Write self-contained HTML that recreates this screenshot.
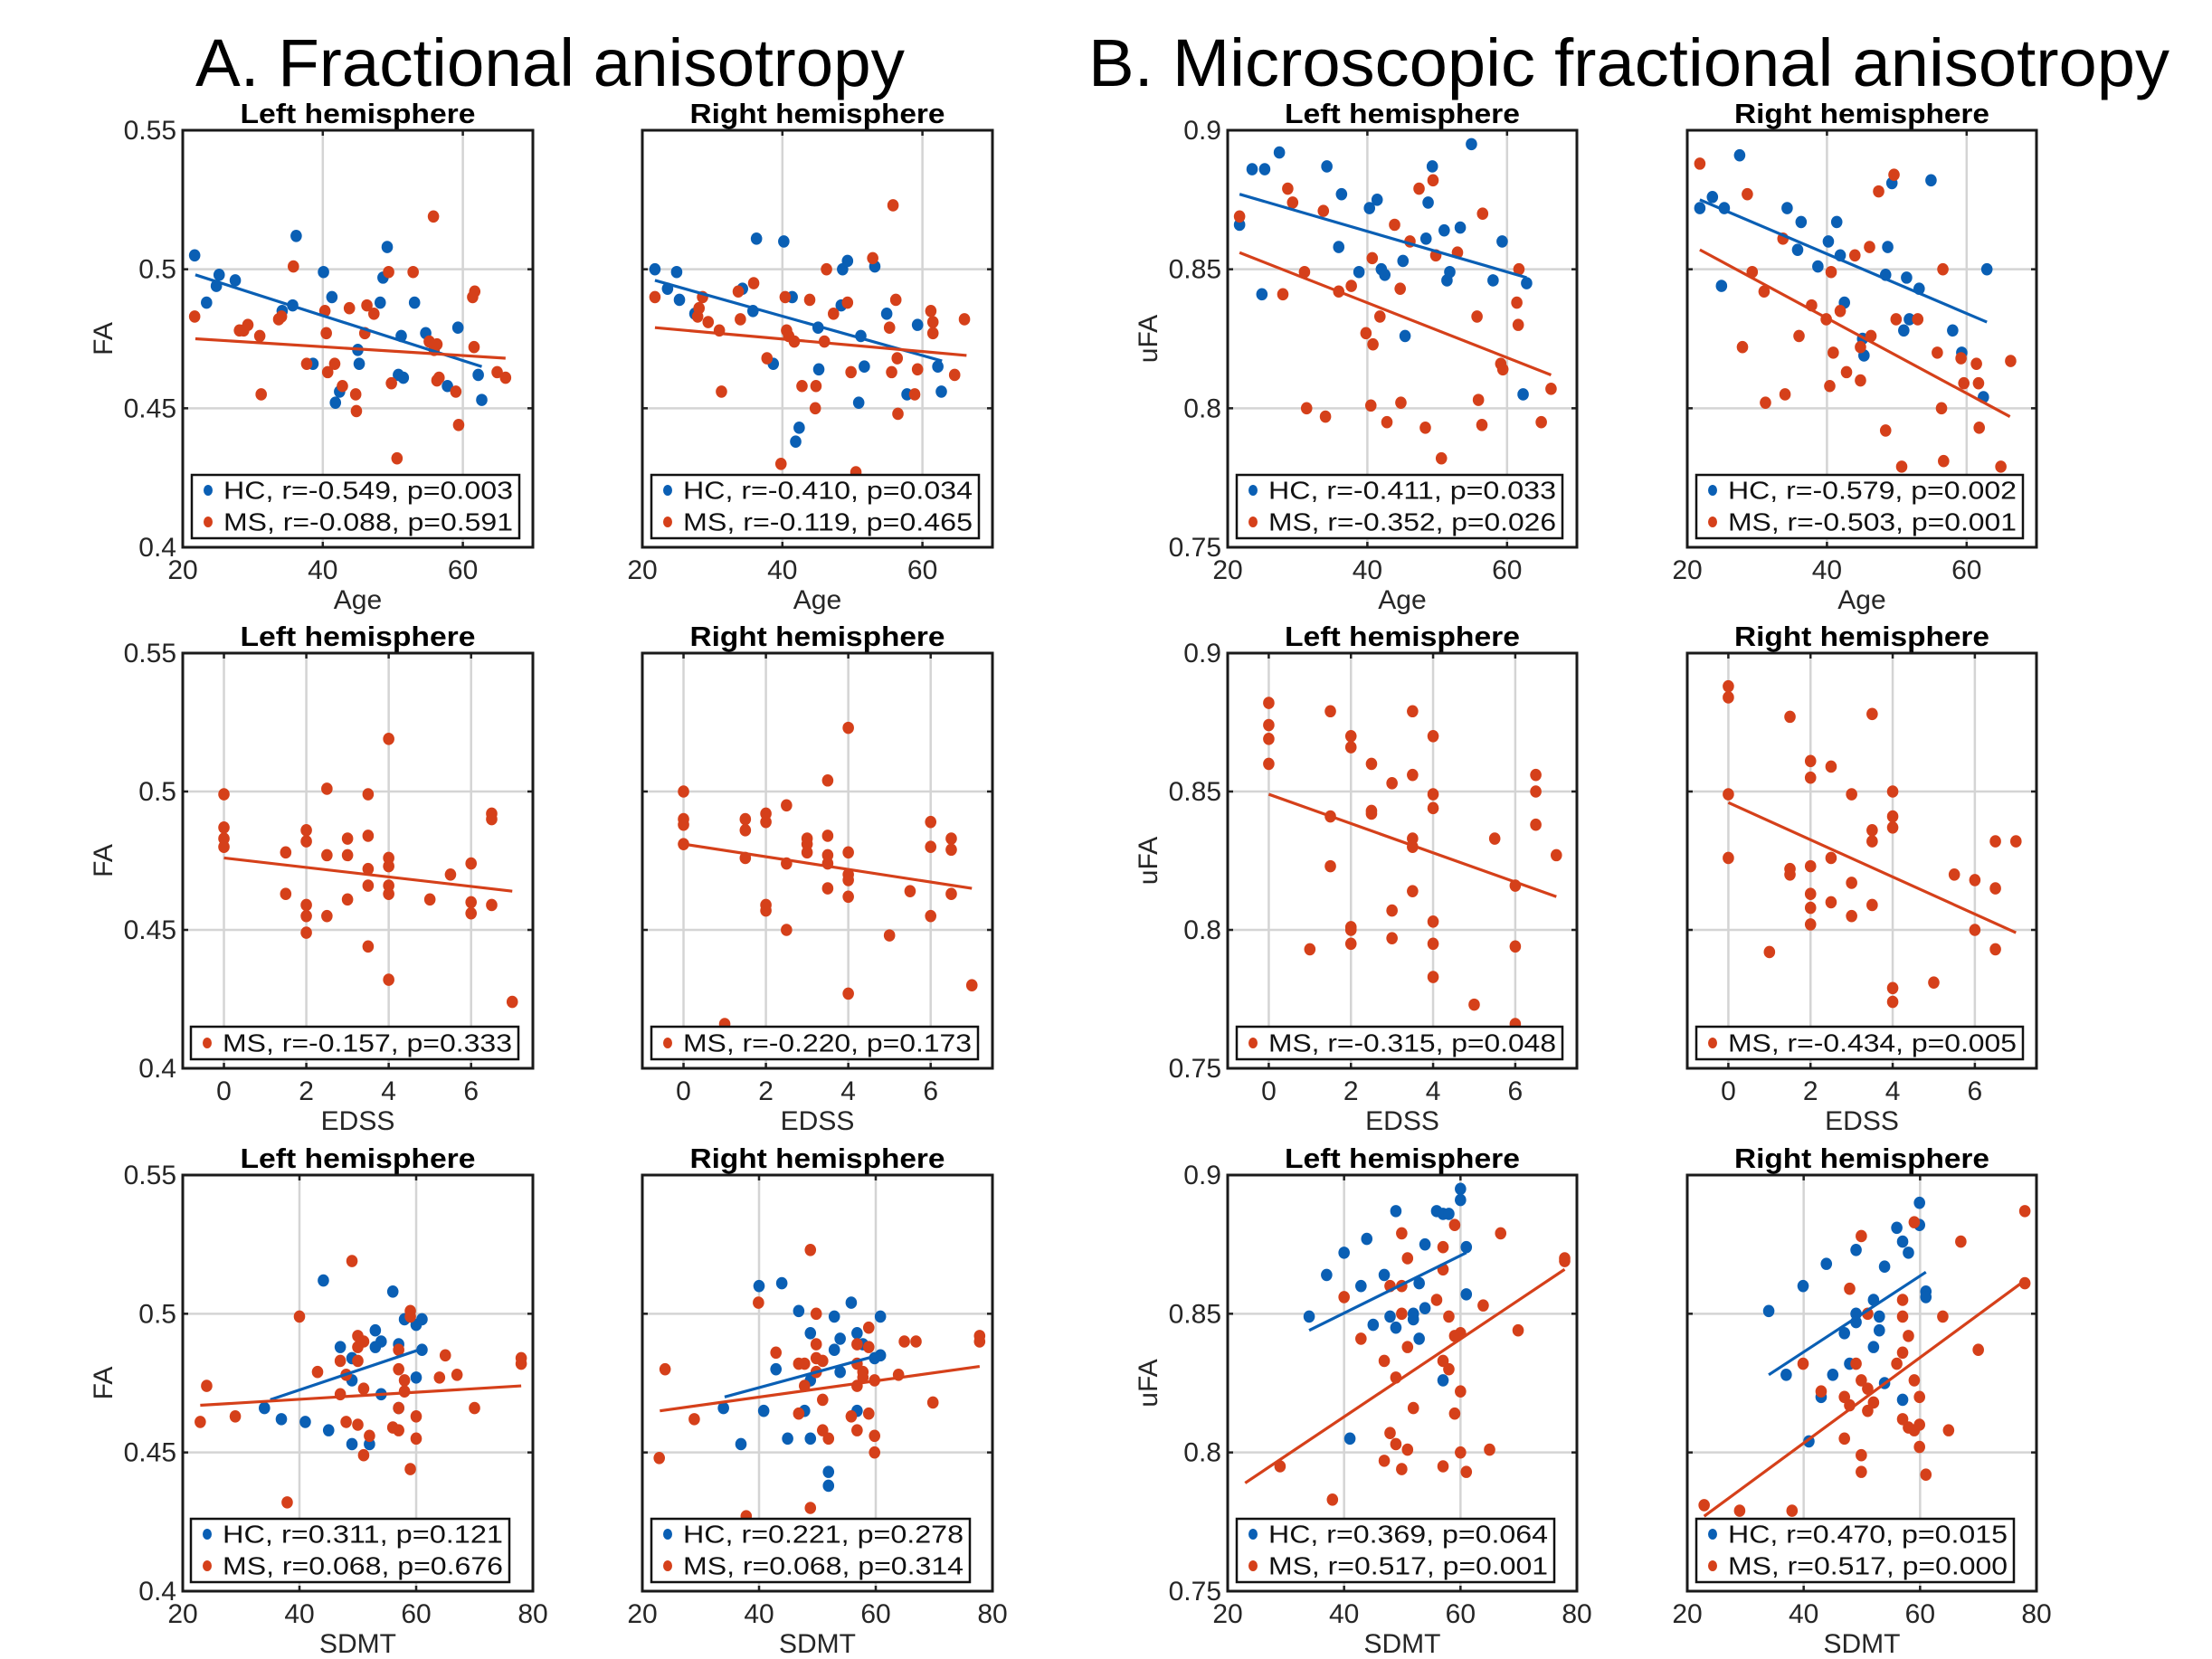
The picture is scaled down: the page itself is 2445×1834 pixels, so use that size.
<!DOCTYPE html>
<html><head><meta charset="utf-8"><style>
html,body{margin:0;padding:0;background:#fff;}
svg{display:block;font-family:"Liberation Sans",sans-serif;}
</style></head><body>
<svg id="fig" xmlns="http://www.w3.org/2000/svg" width="2445" height="1834" viewBox="0 0 2445 1834">
<rect x="0" y="0" width="2445" height="1834" fill="#fff"/>
<text x="216" y="95" font-size="74" textLength="784" lengthAdjust="spacingAndGlyphs">A. Fractional anisotropy</text>
<text x="1203" y="95" font-size="74" textLength="1195" lengthAdjust="spacingAndGlyphs">B. Microscopic fractional anisotropy</text>
</svg>
<script>
// ---- data ----
const A1_HC_X=[21.7,23.4,24.8,25.2,27.5,34.2,35.7,36.2,38.6,40.1,41.3,41.8,42.4,45.0,45.2,48.2,48.6,49.2,50.8,51.2,51.5,53.1,54.7,57.8,59.3,62.2,62.7];
const A1_HC_Y=[0.505,0.488,0.494,0.498,0.496,0.485,0.487,0.512,0.466,0.499,0.490,0.452,0.456,0.471,0.466,0.488,0.497,0.508,0.462,0.476,0.461,0.488,0.477,0.458,0.479,0.462,0.453];
const A1_MS_X=[21.7,28.1,28.7,29.3,31.0,31.2,33.7,34.1,35.8,37.7,40.3,40.5,40.7,41.7,42.8,43.8,44.7,44.8,46.0,46.3,47.3,49.4,49.8,50.6,52.9,55.2,55.8,55.9,56.3,56.3,56.6,59.0,59.4,61.4,61.7,61.6,64.9,66.1];
const A1_MS_Y=[0.483,0.478,0.478,0.480,0.476,0.455,0.482,0.483,0.501,0.466,0.485,0.477,0.463,0.466,0.458,0.486,0.455,0.449,0.477,0.487,0.484,0.499,0.459,0.432,0.499,0.474,0.519,0.471,0.473,0.460,0.461,0.456,0.444,0.490,0.492,0.472,0.463,0.461];
const A1_HC_FIT_X=[21.8,62.7], A1_HC_FIT_Y=[0.498,0.465];
const A1_MS_FIT_X=[21.8,66.1], A1_MS_FIT_Y=[0.475,0.468];

const A2_HC_X=[21.8,23.6,24.9,25.3,27.5,34.3,35.8,36.3,38.7,40.2,41.4,41.9,42.4,45.1,45.2,48.6,48.4,49.3,50.9,51.2,51.7,53.2,54.9,57.8,59.3,62.2,62.7];
const A2_HC_Y=[0.500,0.493,0.499,0.489,0.484,0.493,0.485,0.511,0.466,0.510,0.490,0.438,0.443,0.479,0.464,0.500,0.487,0.503,0.452,0.476,0.465,0.501,0.484,0.455,0.480,0.465,0.456];
const A2_MS_X=[21.8,27.9,28.1,28.6,29.4,31.0,31.3,33.7,34.0,35.9,37.8,39.8,40.4,40.6,40.9,41.7,42.8,43.9,44.7,44.8,46.0,46.3,47.3,49.3,49.8,50.5,52.9,55.3,55.6,55.8,56.2,56.4,56.5,58.9,59.3,61.2,61.5,61.5,64.6,66.0];
const A2_MS_Y=[0.490,0.483,0.486,0.490,0.481,0.478,0.456,0.492,0.482,0.495,0.468,0.430,0.490,0.478,0.476,0.474,0.458,0.489,0.450,0.458,0.474,0.500,0.484,0.488,0.463,0.427,0.504,0.479,0.463,0.523,0.489,0.468,0.448,0.455,0.464,0.485,0.481,0.477,0.462,0.482];
const A2_HC_FIT_X=[21.8,62.8], A2_HC_FIT_Y=[0.496,0.467];
const A2_MS_FIT_X=[21.8,66.3], A2_MS_FIT_Y=[0.479,0.469];

const B1_HC_X=[21.7,23.5,25.3,24.9,27.4,34.2,35.9,36.3,38.8,40.3,41.4,42.0,42.5,45.1,45.4,48.4,48.7,49.3,51.0,51.4,51.8,53.3,54.9,58.0,59.3,62.3,62.8];
const B1_HC_Y=[0.866,0.886,0.886,0.841,0.892,0.887,0.858,0.877,0.849,0.872,0.875,0.850,0.848,0.853,0.826,0.861,0.874,0.887,0.864,0.846,0.849,0.865,0.895,0.846,0.860,0.805,0.845];
const B1_MS_X=[21.7,27.9,28.6,29.3,31.0,31.3,33.7,34.0,35.9,37.7,39.8,40.5,40.7,40.8,41.8,42.8,43.9,44.7,44.8,46.1,47.4,48.3,49.4,49.8,50.6,52.9,55.7,55.9,56.4,56.5,59.1,59.4,61.4,61.6,61.7,64.9,66.3];
const B1_MS_Y=[0.869,0.841,0.879,0.874,0.849,0.800,0.871,0.797,0.842,0.844,0.827,0.801,0.854,0.823,0.833,0.795,0.866,0.843,0.802,0.860,0.879,0.793,0.882,0.855,0.782,0.856,0.833,0.803,0.794,0.870,0.816,0.814,0.838,0.830,0.850,0.795,0.807];
const B1_HC_FIT_X=[21.7,62.8], B1_HC_FIT_Y=[0.877,0.847];
const B1_MS_FIT_X=[21.7,66.3], B1_MS_FIT_Y=[0.856,0.812];

const B2_HC_X=[21.8,23.6,24.9,25.3,27.5,34.3,35.8,36.3,38.7,40.2,41.4,41.9,42.5,45.1,45.3,48.4,48.7,49.3,51.0,51.4,51.8,53.2,54.9,58.0,59.3,62.4,62.9];
const B2_HC_Y=[0.872,0.876,0.844,0.872,0.891,0.872,0.857,0.867,0.851,0.860,0.867,0.855,0.838,0.825,0.819,0.848,0.858,0.881,0.828,0.847,0.832,0.843,0.882,0.828,0.820,0.804,0.850];
const B2_MS_X=[21.8,27.9,28.6,29.3,31.0,31.2,33.7,34.0,36.0,37.8,39.9,40.4,40.6,40.9,41.9,42.8,44.0,44.8,44.8,46.1,46.3,47.4,48.4,49.6,49.9,50.7,53.0,55.8,56.4,56.6,56.7,59.2,59.6,61.4,61.7,61.8,64.9,66.3];
const B2_MS_Y=[0.888,0.822,0.877,0.849,0.842,0.802,0.861,0.805,0.826,0.837,0.832,0.808,0.849,0.820,0.835,0.813,0.855,0.822,0.810,0.858,0.826,0.878,0.792,0.884,0.832,0.779,0.832,0.820,0.800,0.850,0.781,0.818,0.809,0.816,0.809,0.793,0.779,0.817];
const B2_HC_FIT_X=[21.8,62.9], B2_HC_FIT_Y=[0.875,0.831];
const B2_MS_FIT_X=[21.8,66.2], B2_MS_FIT_Y=[0.857,0.797];

const A3_MS_X=[0,0,0,0,1.5,1.5,2,2,2,2,2,2.5,2.5,2.5,3,3,3,3.5,3.5,3.5,3.5,3.5,4,4,4,4,4,4,5,5.5,6,6,6,6.5,6.5,6.5,7];
const A3_MS_Y=[0.499,0.487,0.483,0.480,0.478,0.463,0.486,0.482,0.459,0.455,0.449,0.501,0.477,0.455,0.483,0.477,0.461,0.499,0.484,0.472,0.466,0.444,0.519,0.476,0.473,0.466,0.463,0.432,0.461,0.470,0.474,0.460,0.456,0.492,0.490,0.459,0.424];
const A3_MS_FIT_X=[0,7], A3_MS_FIT_Y=[0.476,0.464];

const A4_MS_X=[0,0,0,0,1,1.5,1.5,1.5,2,2,2,2,2.5,2.5,2.5,3,3,3,3.5,3.5,3.5,3.5,3.5,4,4,4,4,4,4,5,5.5,6,6,6,6.5,6.5,6.5,7];
const A4_MS_Y=[0.500,0.490,0.488,0.481,0.416,0.490,0.486,0.476,0.492,0.489,0.459,0.457,0.495,0.474,0.450,0.483,0.481,0.478,0.504,0.484,0.477,0.474,0.465,0.523,0.478,0.470,0.468,0.462,0.427,0.448,0.464,0.489,0.480,0.455,0.483,0.479,0.463,0.430];
const A4_MS_FIT_X=[0,7], A4_MS_FIT_Y=[0.481,0.465];

const B3_MS_X=[0,0,0,0,1,1.5,1.5,1.5,2,2,2,2,2,2.5,2.5,2.5,3,3,3,3.5,3.5,3.5,3.5,3.5,4,4,4,4,4,4,5,5.5,6,6,6,6.5,6.5,6.5,7];
const B3_MS_Y=[0.882,0.874,0.869,0.860,0.793,0.879,0.841,0.823,0.870,0.866,0.801,0.800,0.795,0.860,0.843,0.842,0.853,0.807,0.797,0.879,0.856,0.833,0.830,0.814,0.870,0.849,0.844,0.803,0.795,0.783,0.773,0.833,0.816,0.794,0.766,0.856,0.850,0.838,0.827];
const B3_MS_FIT_X=[0,7], B3_MS_FIT_Y=[0.849,0.812];

const B4_MS_X=[0,0,0,0,1,1.5,1.5,1.5,2,2,2,2,2,2,2.5,2.5,2.5,3,3,3,3.5,3.5,3.5,3.5,4,4,4,4,4,5,5.5,6,6,6.5,6.5,6.5,7];
const B4_MS_Y=[0.888,0.884,0.849,0.826,0.792,0.877,0.822,0.820,0.861,0.855,0.823,0.813,0.808,0.802,0.859,0.826,0.810,0.849,0.817,0.805,0.878,0.836,0.832,0.809,0.850,0.841,0.837,0.779,0.774,0.781,0.820,0.818,0.800,0.832,0.815,0.793,0.832];
const B4_MS_FIT_X=[0,7], B4_MS_FIT_Y=[0.846,0.799];

const A5_HC_X=[34,36.9,41,44.1,45,47,49,49,49,52,53,53,54,54,56,57,57,58,60,61,60,61];
const A5_HC_Y=[0.466,0.462,0.461,0.512,0.458,0.488,0.484,0.476,0.453,0.453,0.494,0.488,0.490,0.471,0.508,0.489,0.466,0.498,0.496,0.498,0.477,0.487];
const A5_MS_X=[23,24.1,29,37.9,40,43.1,47,47,48,48,49,50,50,50,50,51,51,51,52,56,57,57,57,57,58,58,59,59,59,60,60,64,65,67,70,78,78];
const A5_MS_Y=[0.461,0.474,0.463,0.432,0.499,0.479,0.483,0.471,0.478,0.461,0.519,0.492,0.488,0.483,0.460,0.490,0.473,0.449,0.456,0.459,0.458,0.487,0.480,0.466,0.476,0.472,0.501,0.499,0.444,0.463,0.455,0.477,0.485,0.478,0.466,0.484,0.482];
const A5_HC_FIT_X=[35,60.5], A5_HC_FIT_Y=[0.469,0.487];
const A5_MS_FIT_X=[23,78], A5_MS_FIT_Y=[0.467,0.474];

const A6_HC_X=[33.9,36.9,40,40.8,42.9,43.9,44.9,46.8,47.8,48.8,48.8,48.8,51.9,51.9,52.9,52.9,53.9,53.9,55.8,56.8,56.8,57.8,59.8,60.8,60.8];
const A6_HC_Y=[0.466,0.453,0.510,0.465,0.480,0.511,0.455,0.501,0.465,0.493,0.476,0.455,0.443,0.438,0.499,0.487,0.491,0.479,0.504,0.493,0.465,0.489,0.484,0.499,0.485];
const A6_MS_X=[22.9,23.9,28.9,37.8,39.9,42.9,46.8,46.8,47.8,47.8,48.8,48.8,49.8,49.8,49.8,49.8,50.9,50.9,50.9,51.9,55.8,56.8,56.8,56.8,56.8,57.8,57.8,58.8,58.8,58.8,59.8,59.8,59.8,63.9,64.9,66.9,69.8,77.8,77.8];
const A6_MS_Y=[0.448,0.480,0.462,0.427,0.504,0.486,0.482,0.464,0.482,0.474,0.523,0.430,0.500,0.489,0.484,0.479,0.483,0.469,0.458,0.455,0.463,0.489,0.482,0.474,0.458,0.479,0.477,0.495,0.488,0.464,0.476,0.456,0.450,0.478,0.490,0.490,0.468,0.492,0.490];
const A6_HC_FIT_X=[34.1,60.4], A6_HC_FIT_Y=[0.470,0.485];
const A6_MS_FIT_X=[23,77.8], A6_MS_FIT_Y=[0.465,0.481];

const B5_HC_X=[34,37,40,41,42.9,43.9,45,46.9,47.9,48.9,48.9,51.9,51.9,52.9,52.9,53.9,53.9,55.9,57,58,57,60,60,61,61];
const B5_HC_Y=[0.849,0.864,0.872,0.805,0.860,0.877,0.846,0.864,0.849,0.887,0.845,0.850,0.848,0.861,0.841,0.875,0.852,0.887,0.886,0.886,0.826,0.895,0.891,0.874,0.857];
const B5_MS_X=[29,38,40,42.9,46.9,46.9,47.9,47.9,48.9,48.9,49.9,49.9,49.9,49.9,50.9,50.9,50.9,51.9,55.9,57,57,57,57,58,58,59,59,59,60,60,60,61,63.9,65,66.9,69.9,77.9,77.9];
const B5_MS_Y=[0.795,0.783,0.856,0.841,0.833,0.797,0.860,0.807,0.827,0.803,0.879,0.860,0.850,0.794,0.870,0.838,0.801,0.816,0.855,0.874,0.866,0.833,0.795,0.849,0.830,0.882,0.842,0.814,0.843,0.822,0.800,0.793,0.853,0.801,0.879,0.844,0.870,0.869];
const B5_HC_FIT_X=[34,61], B5_HC_FIT_Y=[0.844,0.872];
const B5_MS_FIT_X=[23,77.9], B5_MS_FIT_Y=[0.789,0.866];

const B6_HC_X=[34,37,39.9,40.9,43,43.9,45,47,47.9,49,49,49,52,52,53,53,53.9,53.9,56,57,57,58,59.9,59.9,61,61];
const B6_HC_Y=[0.851,0.828,0.860,0.804,0.820,0.868,0.828,0.843,0.832,0.873,0.850,0.847,0.855,0.838,0.849,0.844,0.867,0.825,0.881,0.876,0.819,0.872,0.890,0.882,0.858,0.856];
const B6_MS_X=[22.9,29,38,39.9,43,47,47,47.9,47.9,49,49.9,49.9,49.9,49.9,51,51,51,52,56,57,57,57,57,58,58,59,59,59,59.9,59.9,59.9,61,63.9,64.9,67,70,78,78];
const B6_MS_Y=[0.781,0.779,0.779,0.832,0.822,0.820,0.805,0.859,0.817,0.832,0.878,0.826,0.799,0.793,0.850,0.823,0.815,0.818,0.832,0.855,0.849,0.836,0.812,0.842,0.809,0.883,0.826,0.808,0.820,0.810,0.802,0.792,0.849,0.808,0.876,0.837,0.887,0.861];
const B6_HC_FIT_X=[34,61], B6_HC_FIT_Y=[0.828,0.865];
const B6_MS_FIT_X=[22.9,78], B6_MS_FIT_Y=[0.777,0.862];

// tick labels
const FA_TICKS=[0.4,0.45,0.5,0.55], FA_TICK_LABELS=["0.4","0.45","0.5","0.55"];
const UFA_TICKS=[0.75,0.8,0.85,0.9], UFA_TICK_LABELS=["0.75","0.8","0.85","0.9"];
const AGE_TICKS=[20,40,60], AGE_TICK_LABELS=["20","40","60"];
const EDSS_TICKS=[0,2,4,6], EDSS_TICK_LABELS=["0","2","4","6"];
const SDMT_TICKS=[20,40,60,80], SDMT_TICK_LABELS=["20","40","60","80"];

// legend strings
const LEG_A1=["HC, r=-0.549, p=0.003","MS, r=-0.088, p=0.591"];
const LEG_A2=["HC, r=-0.410, p=0.034","MS, r=-0.119, p=0.465"];
const LEG_B1=["HC, r=-0.411, p=0.033","MS, r=-0.352, p=0.026"];
const LEG_B2=["HC, r=-0.579, p=0.002","MS, r=-0.503, p=0.001"];
const LEG_A3=["MS, r=-0.157, p=0.333"];
const LEG_A4=["MS, r=-0.220, p=0.173"];
const LEG_B3=["MS, r=-0.315, p=0.048"];
const LEG_B4=["MS, r=-0.434, p=0.005"];
const LEG_A5=["HC, r=0.311, p=0.121","MS, r=0.068, p=0.676"];
const LEG_A6=["HC, r=0.221, p=0.278","MS, r=0.068, p=0.314"];
const LEG_B5=["HC, r=0.369, p=0.064","MS, r=0.517, p=0.001"];
const LEG_B6=["HC, r=0.470, p=0.015","MS, r=0.517, p=0.000"];

// ---- layout ----
const BLUE="#0a5fb4", RED="#d5401a";
const COLS=[[202,589],[710,1097],[1357,1743],[1865,2251]];
const ROWS=[[144,605],[722,1181],[1299,1759]];
const svg=document.getElementById('fig');
const NS="http://www.w3.org/2000/svg";
function mk(tag,attrs,parent){const e=document.createElementNS(NS,tag);for(const k in attrs)e.setAttribute(k,attrs[k]);(parent||svg).appendChild(e);return e;}

const panels=[
 {id:"a1",c:0,r:0,xd:[20,70],yd:[0.4,0.55],xt:AGE_TICKS,xl:AGE_TICK_LABELS,yt:FA_TICKS,yl:FA_TICK_LABELS,xlab:"Age",ylab:"FA",title:"Left hemisphere",hc:[A1_HC_X,A1_HC_Y],ms:[A1_MS_X,A1_MS_Y],hf:[A1_HC_FIT_X,A1_HC_FIT_Y],mf:[A1_MS_FIT_X,A1_MS_FIT_Y],leg:LEG_A1,lw:[212,362]},
 {id:"a2",c:1,r:0,xd:[20,70],yd:[0.4,0.55],xt:AGE_TICKS,xl:AGE_TICK_LABELS,yt:FA_TICKS,yl:null,xlab:"Age",title:"Right hemisphere",hc:[A2_HC_X,A2_HC_Y],ms:[A2_MS_X,A2_MS_Y],hf:[A2_HC_FIT_X,A2_HC_FIT_Y],mf:[A2_MS_FIT_X,A2_MS_FIT_Y],leg:LEG_A2,lw:[720,362]},
 {id:"b1",c:2,r:0,xd:[20,70],yd:[0.75,0.9],xt:AGE_TICKS,xl:AGE_TICK_LABELS,yt:UFA_TICKS,yl:UFA_TICK_LABELS,xlab:"Age",ylab:"uFA",title:"Left hemisphere",hc:[B1_HC_X,B1_HC_Y],ms:[B1_MS_X,B1_MS_Y],hf:[B1_HC_FIT_X,B1_HC_FIT_Y],mf:[B1_MS_FIT_X,B1_MS_FIT_Y],leg:LEG_B1,lw:[1367,360]},
 {id:"b2",c:3,r:0,xd:[20,70],yd:[0.75,0.9],xt:AGE_TICKS,xl:AGE_TICK_LABELS,yt:UFA_TICKS,yl:null,xlab:"Age",title:"Right hemisphere",hc:[B2_HC_X,B2_HC_Y],ms:[B2_MS_X,B2_MS_Y],hf:[B2_HC_FIT_X,B2_HC_FIT_Y],mf:[B2_MS_FIT_X,B2_MS_FIT_Y],leg:LEG_B2,lw:[1875,361]},
 {id:"a3",c:0,r:1,xd:[-1,7.5],yd:[0.4,0.55],xt:EDSS_TICKS,xl:EDSS_TICK_LABELS,yt:FA_TICKS,yl:FA_TICK_LABELS,xlab:"EDSS",ylab:"FA",title:"Left hemisphere",ms:[A3_MS_X,A3_MS_Y],mf:[A3_MS_FIT_X,A3_MS_FIT_Y],leg:LEG_A3,lw:[211,362]},
 {id:"a4",c:1,r:1,xd:[-1,7.5],yd:[0.4,0.55],xt:EDSS_TICKS,xl:EDSS_TICK_LABELS,yt:FA_TICKS,yl:null,xlab:"EDSS",title:"Right hemisphere",ms:[A4_MS_X,A4_MS_Y],mf:[A4_MS_FIT_X,A4_MS_FIT_Y],leg:LEG_A4,lw:[720,361]},
 {id:"b3",c:2,r:1,xd:[-1,7.5],yd:[0.75,0.9],xt:EDSS_TICKS,xl:EDSS_TICK_LABELS,yt:UFA_TICKS,yl:UFA_TICK_LABELS,xlab:"EDSS",ylab:"uFA",title:"Left hemisphere",ms:[B3_MS_X,B3_MS_Y],mf:[B3_MS_FIT_X,B3_MS_FIT_Y],leg:LEG_B3,lw:[1367,360]},
 {id:"b4",c:3,r:1,xd:[-1,7.5],yd:[0.75,0.9],xt:EDSS_TICKS,xl:EDSS_TICK_LABELS,yt:UFA_TICKS,yl:null,xlab:"EDSS",title:"Right hemisphere",ms:[B4_MS_X,B4_MS_Y],mf:[B4_MS_FIT_X,B4_MS_FIT_Y],leg:LEG_B4,lw:[1875,361]},
 {id:"a5",c:0,r:2,xd:[20,80],yd:[0.4,0.55],xt:SDMT_TICKS,xl:SDMT_TICK_LABELS,yt:FA_TICKS,yl:FA_TICK_LABELS,xlab:"SDMT",ylab:"FA",title:"Left hemisphere",hc:[A5_HC_X,A5_HC_Y],ms:[A5_MS_X,A5_MS_Y],hf:[A5_HC_FIT_X,A5_HC_FIT_Y],mf:[A5_MS_FIT_X,A5_MS_FIT_Y],leg:LEG_A5,lw:[211,352]},
 {id:"a6",c:1,r:2,xd:[20,80],yd:[0.4,0.55],xt:SDMT_TICKS,xl:SDMT_TICK_LABELS,yt:FA_TICKS,yl:null,xlab:"SDMT",title:"Right hemisphere",hc:[A6_HC_X,A6_HC_Y],ms:[A6_MS_X,A6_MS_Y],hf:[A6_HC_FIT_X,A6_HC_FIT_Y],mf:[A6_MS_FIT_X,A6_MS_FIT_Y],leg:LEG_A6,lw:[720,352]},
 {id:"b5",c:2,r:2,xd:[20,80],yd:[0.75,0.9],xt:SDMT_TICKS,xl:SDMT_TICK_LABELS,yt:UFA_TICKS,yl:UFA_TICK_LABELS,xlab:"SDMT",ylab:"uFA",title:"Left hemisphere",hc:[B5_HC_X,B5_HC_Y],ms:[B5_MS_X,B5_MS_Y],hf:[B5_HC_FIT_X,B5_HC_FIT_Y],mf:[B5_MS_FIT_X,B5_MS_FIT_Y],leg:LEG_B5,lw:[1367,351]},
 {id:"b6",c:3,r:2,xd:[20,80],yd:[0.75,0.9],xt:SDMT_TICKS,xl:SDMT_TICK_LABELS,yt:UFA_TICKS,yl:null,xlab:"SDMT",title:"Right hemisphere",hc:[B6_HC_X,B6_HC_Y],ms:[B6_MS_X,B6_MS_Y],hf:[B6_HC_FIT_X,B6_HC_FIT_Y],mf:[B6_MS_FIT_X,B6_MS_FIT_Y],leg:LEG_B6,lw:[1875,351]}
];

const defs=mk('defs',{});
panels.forEach(p=>{
  const [x0,x1]=COLS[p.c],[y0,y1]=ROWS[p.r];
  const sx=v=>x0+(v-p.xd[0])/(p.xd[1]-p.xd[0])*(x1-x0);
  const sy=v=>y1-(v-p.yd[0])/(p.yd[1]-p.yd[0])*(y1-y0);
  const g=mk('g',{});
  
  
  const cp=mk('clipPath',{id:'clip-'+p.id},defs);
  mk('rect',{x:x0,y:y0,width:x1-x0,height:y1-y0},cp);
  p.xt.forEach(t=>{const X=sx(t);
    const l=mk('line',{x1:X,x2:X,y1:y0,y2:y1,stroke:"#d4d4d4","stroke-width":2.5},g);
    
    
    mk('line',{x1:X,x2:X,y1:y1,y2:y1-6,stroke:"#222","stroke-width":2.5},g);
    mk('line',{x1:X,x2:X,y1:y0,y2:y0+6,stroke:"#222","stroke-width":2.5},g);
  });
  p.yt.forEach(t=>{const Y=sy(t);
    const l=mk('line',{x1:x0,x2:x1,y1:Y,y2:Y,stroke:"#d4d4d4","stroke-width":2.5},g);
    
    
    mk('line',{x1:x0,x2:x0+6,y1:Y,y2:Y,stroke:"#222","stroke-width":2.5},g);
    mk('line',{x1:x1,x2:x1-6,y1:Y,y2:Y,stroke:"#222","stroke-width":2.5},g);
  });
  const pg=mk('g',{'clip-path':'url(#clip-'+p.id+')'},g);
  function series(d,col,nm){
    const n=Math.min(d[0].length,d[1].length);
    for(let i=0;i<n;i++){
      const e=mk('ellipse',{cx:sx(d[0][i]),cy:sy(d[1][i]),rx:6.3,ry:6.8,fill:col},pg);
      
      
    }
  }
  function fit(f,col,nm){
    const l=mk('line',{x1:sx(f[0][0]),y1:sy(f[1][0]),x2:sx(f[0][1]),y2:sy(f[1][1]),stroke:col,"stroke-width":3.2},pg);
    
    
  }
  if(p.hc)series(p.hc,BLUE,'hc');
  series(p.ms,RED,'ms');
  if(p.hf)fit(p.hf,BLUE,'hc');
  fit(p.mf,RED,'ms');
  const nl=p.leg.length, lh=nl===2?70:36;
  const lx=p.lw[0], lwid=p.lw[1], ly=y1-10-lh;
  const lg=mk('g',{},g);
  
  
  mk('rect',{x:lx,y:ly,width:lwid,height:lh,fill:"#fff",stroke:"#111","stroke-width":2.5},lg);
  p.leg.forEach((s,i)=>{
    const cy=ly+(nl===2?17+i*35:18);
    const col=(nl===2&&i===0)?BLUE:RED;
    const d=mk('ellipse',{cx:lx+18,cy:cy,rx:5,ry:6,fill:col},lg);
    
    
    const t=mk('text',{x:lx+35,y:cy+9.5,"font-size":28,textLength:lwid-42,lengthAdjust:"spacingAndGlyphs",fill:"#111"},lg);
    t.textContent=s;
    
    
  });
  const b=mk('rect',{x:x0,y:y0,width:x1-x0,height:y1-y0,fill:"none",stroke:"#1a1a1a","stroke-width":3},g);
  
  
  p.xt.forEach((t,i)=>{
    const e=mk('text',{x:sx(t),y:y1+35,"text-anchor":"middle","font-size":30,fill:"#262626"},g);
    e.textContent=p.xl[i];
    
    
  });
  if(p.yl){p.yt.forEach((t,i)=>{
    const e=mk('text',{x:x0-7,y:sy(t)+10,"text-anchor":"end","font-size":30,fill:"#262626"},g);
    e.textContent=p.yl[i];
    
    
  });
    const yl=mk('text',{x:0,y:0,"text-anchor":"middle","font-size":30,fill:"#262626",transform:`translate(${x0-78},${(y0+y1)/2}) rotate(-90)`},g);
    yl.textContent=p.ylab;
    
    
  }
  const xl=mk('text',{x:(x0+x1)/2,y:y1+68,"text-anchor":"middle","font-size":30,fill:"#262626"},g);
  xl.textContent=p.xlab;
  
  
  const tl=p.title.startsWith("Left")?260:282;
  const tt=mk('text',{x:(x0+x1)/2-tl/2,y:y0-8,"font-size":31,"font-weight":"bold",fill:"#000",textLength:tl,lengthAdjust:"spacingAndGlyphs"},g);
  tt.textContent=p.title;
  
  
});
</script>
</body></html>
